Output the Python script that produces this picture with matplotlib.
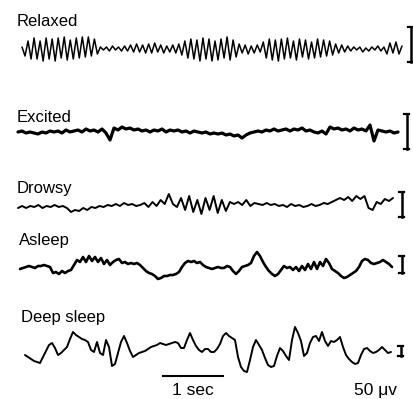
import numpy as np
import matplotlib
matplotlib.use("Agg")
import matplotlib.pyplot as plt

plt.rcParams['font.family'] = ['Liberation Sans', 'DejaVu Sans']

# ---- data (trace deflections, up = positive) ----
labels = ["Relaxed", "Excited", "Drowsy", "Asleep", "Deep sleep"]

relaxed = [2, -7, 8, -10, 11, -10, 8, -12, 11, -10, 10, -12, 11, -9, 12, -11, 9, -10, 11, -9, 12, -8, 12, -7, 10, -5,
           2, -1, 2, -2, 3, -1, 2, -2, 3, -2,
           4, -3, 5, -3, 4, -4, 5, -4, 6, -3, 4, -4, 3, -3, 4, -4, 5,
           -6, 8, -9, 10, -10, 9, -12, 11, -10, 10, -12, 8, -11, 10, -9, 12, -11, 9, -8,
           5, -4, 4, -5, 3, -4, 4, -3,
           7, -9, 10, -11, 9, -12, 10, -10, 11, -9, 8, -11, 10, -8, 9, -10, 7, -9, 10, -8, 9, -7, 8, -6,
           5, -4, 4, -3, 3,
           -2, 2, -1, 2, -3, 1, -2, 2, -1, 3, -2, 2,
           -5, 6, -4, 7, -5, 3]

excited = [0, 1, -1, 0, -1, -2, 0, -1, 1, 0,
           1, -1, 2, 0, 1, 2, 0, 3, 1, 2,
           0, 3, -1, -8, 4, 2, 5, 3, 4, 2,
           3, 1, 2, 0, 2, 1, 3, 0, 2, 1,
           2, 0, 1, -1, 1, 0, -1, 0, -2, -1,
           -2, -1, -3, -2, -4, -3, -6, -3, -1, 0,
           1, 0, 2, 1, 3, 1, 2, 3, 1, 3,
           2, 4, 1, 2, 0, -1, 1, -2, 5, 3,
           4, 2, 3, 1, 4, 2, 3, 1, 7, -9,
           2, 1, 0, 1, -1, 0]

drowsy = [0, 2, 0, 2, 1, 3, 0, 2, 1, 3, 1, 2, 0,
          -4, -2, -3, 0, -2, 1,
          0, 2, 1, 3, 2, 4, 2, 5, 3,
          4, 2, 3, 5, 1, 6, 2, 8, 4,
          14, 4, 1, 10, -2, 12, -4, 8,
          -6, 10, -2, 12, -5, 8, -3, 6,
          4, 6, 3, 8, 2, 5, 4, 3,
          5, 3, 4, 2, 3, 1, 4, 2,
          3, 1, 2, 4, 2, 3, 5, 4, 6,
          8, 10, 8, 11, 7, 12, 9, 12,
          0, -2, 6, 4, 9, 7, 10]

asleep = [-1, 0, 1, 2, 1, 0, 2, 2, 3, 2,
          1, -5, -4, -6, -3, -5, -3, -2, 3, 8,
          6, 11, 6, 12, 7, 11, 6, 10, 4, 8,
          3, 6, 8, 9, 5, 6, 4, 5, 4, 5,
          3, 0, -3, -5, -6, -8, -11, -10, -8, -8,
          -7, -7, -6, -4, 1, 5, 7, 6, 7, 5,
          6, 3, 1, 0, -1, 0, 1, 0, 0, 2,
          1, -3, -6, -3, 1, 2, 3, 5, 12, 16,
          12, 6, 1, -3, -6, -8, -6, -2, 2, 0,
          1, -2, 1, -3, 2, -2, 4, -1, 6, -1,
          6, 2, 9, 5, -1, -3, -5, -8, -10, -9,
          -7, -5, -3, 1, 7, 9, 8, 5, 4, 5,
          6, 8, 6, 4, 1]

deep_sleep = [-5, -7, -9, -11, -12, -13, -7, -1, 5, 7,
              2, -5, -3, 0, 3, 11, 18, 15, 13, 11,
              10, 8, 0, -2, 8, -3, -5, 10, 3, -16,
              -14, -3, 8, 14, 7, -1, -7, -5, -3, -2,
              -1, 1, 3, 4, 5, 7, 6, 5, 6, 7,
              8, 7, 2, 2, 10, 17, 10, 4, 0, -2,
              1, 1, -2, -2, 1, 6, 14, 17, 14, 12,
              10, -7, -17, -21, -22, -10, 3, 10, 5, 0,
              -8, -15, -17, -16, -6, 2, -1, -6, -10, 10,
              23, 17, 9, -6, -3, 7, 13, 14, 9, 18,
              9, 4, 9, 8, 10, 13, 3, -5, -9, -12,
              -14, -13, -5, 1, 2, -1, -3, -2, 0, 3,
              0, -3, -2]

traces = [relaxed, excited, drowsy, asleep, deep_sleep]
time_label = "1 sec"
amp_label = "50 μv"

# ---- layout (pixel space of the 414x399 picture) ----
x_start = [22, 18, 18, 20, 25]
x_end = [402, 398, 393, 392, 391]
baseline = [49, 132, 208, 268, 350]
widths = [1.1, 2.3, 1.4, 1.9, 1.4]
label_xy = [(17, 26), (17, 122), (17, 193), (19, 245), (21, 322)]
cal_x = [411, 407, 402, 402, 401]
cal_y = [(27, 62), (114, 149), (192, 217), (256, 273), (346, 356)]

fig = plt.figure(figsize=(4.14, 3.99), dpi=100)
ax = fig.add_axes([0, 0, 1, 1])
ax.set_xlim(0, 414)
ax.set_ylim(399, 0)
ax.axis('off')

for vals, xs, xe, b, lw, lab, lxy, cx, cy in zip(traces, x_start, x_end, baseline, widths,
                                                 labels, label_xy, cal_x, cal_y):
    v = np.asarray(vals, dtype=float)
    x = np.linspace(xs, xe, len(v))
    ax.plot(x, b - v, color='black', lw=lw, solid_joinstyle='round', solid_capstyle='round')
    ax.text(lxy[0], lxy[1], lab, fontsize=12, va='baseline', ha='left', color='black')
    ax.plot([cx, cx], [cy[0], cy[1]], color='black', lw=1.8)
    ax.plot([cx - 2.5, cx + 2.5], [cy[0], cy[0]], color='black', lw=1.6)
    ax.plot([cx - 2.5, cx + 2.5], [cy[1], cy[1]], color='black', lw=1.6)

# time scale bar
ax.plot([163, 223], [376, 376], color='black', lw=1.5)
ax.text(193, 395, time_label, fontsize=12.5, ha='center', va='baseline')
ax.text(376, 395, amp_label, fontsize=12.5, ha='center', va='baseline')

fig.savefig("out.png", dpi=100, facecolor='white')
